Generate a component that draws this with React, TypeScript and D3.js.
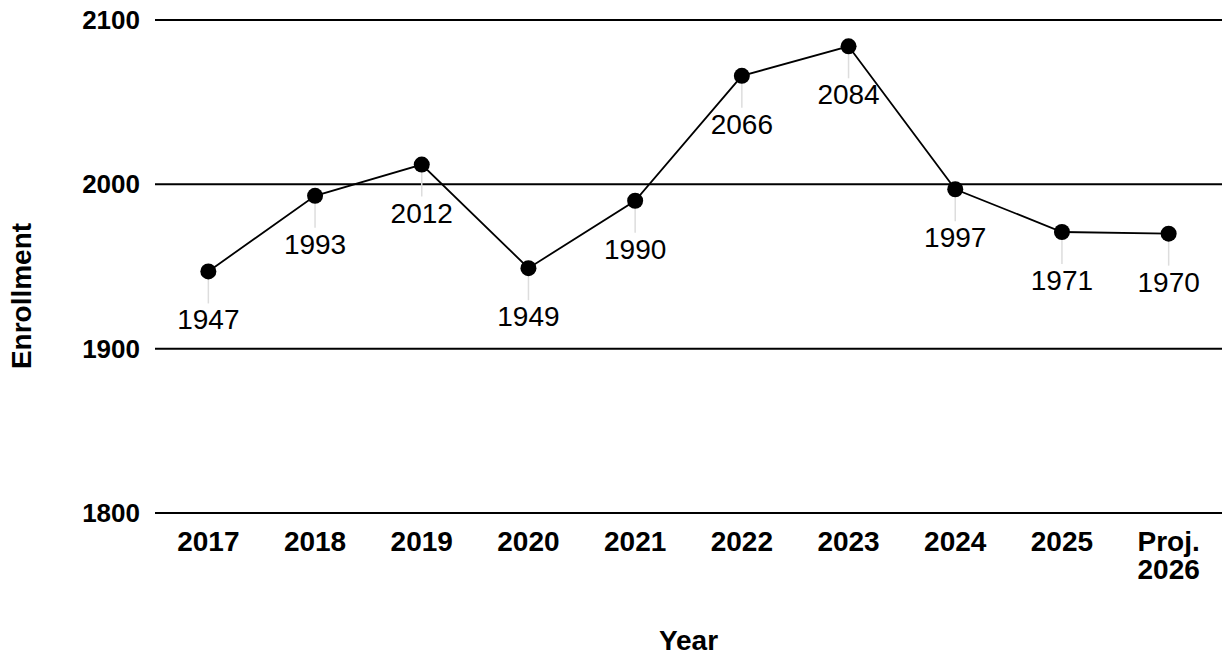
import { useEffect, useRef } from "react"
import * as d3 from "d3"

const years = ["2017", "2018", "2019", "2020", "2021", "2022", "2023", "2024", "2025", "Proj. 2026"]
const enrollment = [1947, 1993, 2012, 1949, 1990, 2066, 2084, 1997, 1971, 1970]
const yTicks = [1800, 1900, 2000, 2100]

export default function App() {
  const svgRef = useRef<SVGSVGElement>(null)

  useEffect(() => {
    if (!svgRef.current) return
    const W = 1225
    const H = 658
    const margin = { top: 20, right: 3, bottom: 145, left: 155 }
    const innerW = W - margin.left - margin.right
    const innerH = H - margin.top - margin.bottom
    const font = "Liberation Sans, Arial, sans-serif"

    const svg = d3.select(svgRef.current)
    svg.selectAll("*").remove()
    svg.attr("width", W).attr("height", H)

    const g = svg.append("g").attr("transform", `translate(${margin.left},${margin.top})`)

    const x = d3.scaleBand().domain(years).range([0, innerW])
    const y = d3.scaleLinear().domain([1800, 2100]).range([innerH, 0])
    const cx = (d: string) => (x(d) ?? 0) + x.bandwidth() / 2

    // Grid lines
    g.append("g")
      .selectAll("line")
      .data(yTicks)
      .join("line")
      .attr("x1", 0)
      .attr("x2", innerW)
      .attr("y1", (d) => y(d))
      .attr("y2", (d) => y(d))
      .attr("stroke", "#000")
      .attr("stroke-width", 2)

    // Y tick labels
    g.append("g")
      .selectAll("text")
      .data(yTicks)
      .join("text")
      .attr("x", -15)
      .attr("y", (d) => y(d))
      .attr("dy", "0.35em")
      .attr("text-anchor", "end")
      .style("font-family", font)
      .style("font-weight", "bold")
      .style("font-size", "26px")
      .style("fill", "#000")
      .text((d) => d)

    // X tick labels
    const xt = g.append("g")
      .selectAll("text")
      .data(years)
      .join("text")
      .attr("x", (d) => cx(d))
      .attr("y", innerH + 38)
      .attr("text-anchor", "middle")
      .style("font-family", font)
      .style("font-weight", "bold")
      .style("font-size", "28px")
      .style("fill", "#000")
    xt.each(function (d) {
      const parts = d.split(" ")
      const t = d3.select(this)
      parts.forEach((p, i) => {
        t.append("tspan")
          .attr("x", cx(d))
          .attr("dy", i === 0 ? 0 : 28)
          .text(p)
      })
    })

    // Axis titles
    svg.append("text")
      .attr("transform", `translate(31,296) rotate(-90)`)
      .attr("text-anchor", "middle")
      .style("font-family", font)
      .style("font-weight", "bold")
      .style("font-size", "28px")
      .text("Enrollment")

    svg.append("text")
      .attr("x", margin.left + innerW / 2)
      .attr("y", 650)
      .attr("text-anchor", "middle")
      .style("font-family", font)
      .style("font-weight", "bold")
      .style("font-size", "28px")
      .text("Year")

    const pts = years.map((d, i) => ({ year: d, value: enrollment[i] }))

    // Leader lines
    g.append("g")
      .selectAll("line")
      .data(pts)
      .join("line")
      .attr("x1", (d) => cx(d.year))
      .attr("x2", (d) => cx(d.year))
      .attr("y1", (d) => y(d.value))
      .attr("y2", (d) => y(d.value) + 32)
      .attr("stroke", "#ddd")
      .attr("stroke-width", 1.5)

    // Line
    const line = d3
      .line<{ year: string; value: number }>()
      .x((d) => cx(d.year))
      .y((d) => y(d.value))
    g.append("path")
      .datum(pts)
      .attr("d", line)
      .attr("fill", "none")
      .attr("stroke", "#000")
      .attr("stroke-width", 1.8)

    // Points
    g.append("g")
      .selectAll("circle")
      .data(pts)
      .join("circle")
      .attr("cx", (d) => cx(d.year))
      .attr("cy", (d) => y(d.value))
      .attr("r", 8)
      .attr("fill", "#000")

    // Data labels
    g.append("g")
      .selectAll("text")
      .data(pts)
      .join("text")
      .attr("x", (d) => cx(d.year))
      .attr("y", (d) => y(d.value) + 58)
      .attr("text-anchor", "middle")
      .style("font-family", font)
      .style("font-size", "28px")
      .style("fill", "#000")
      .text((d) => d.value)
  }, [])

  return <svg ref={svgRef} style={{ position: "absolute", left: 0, top: 0 }} />
}
